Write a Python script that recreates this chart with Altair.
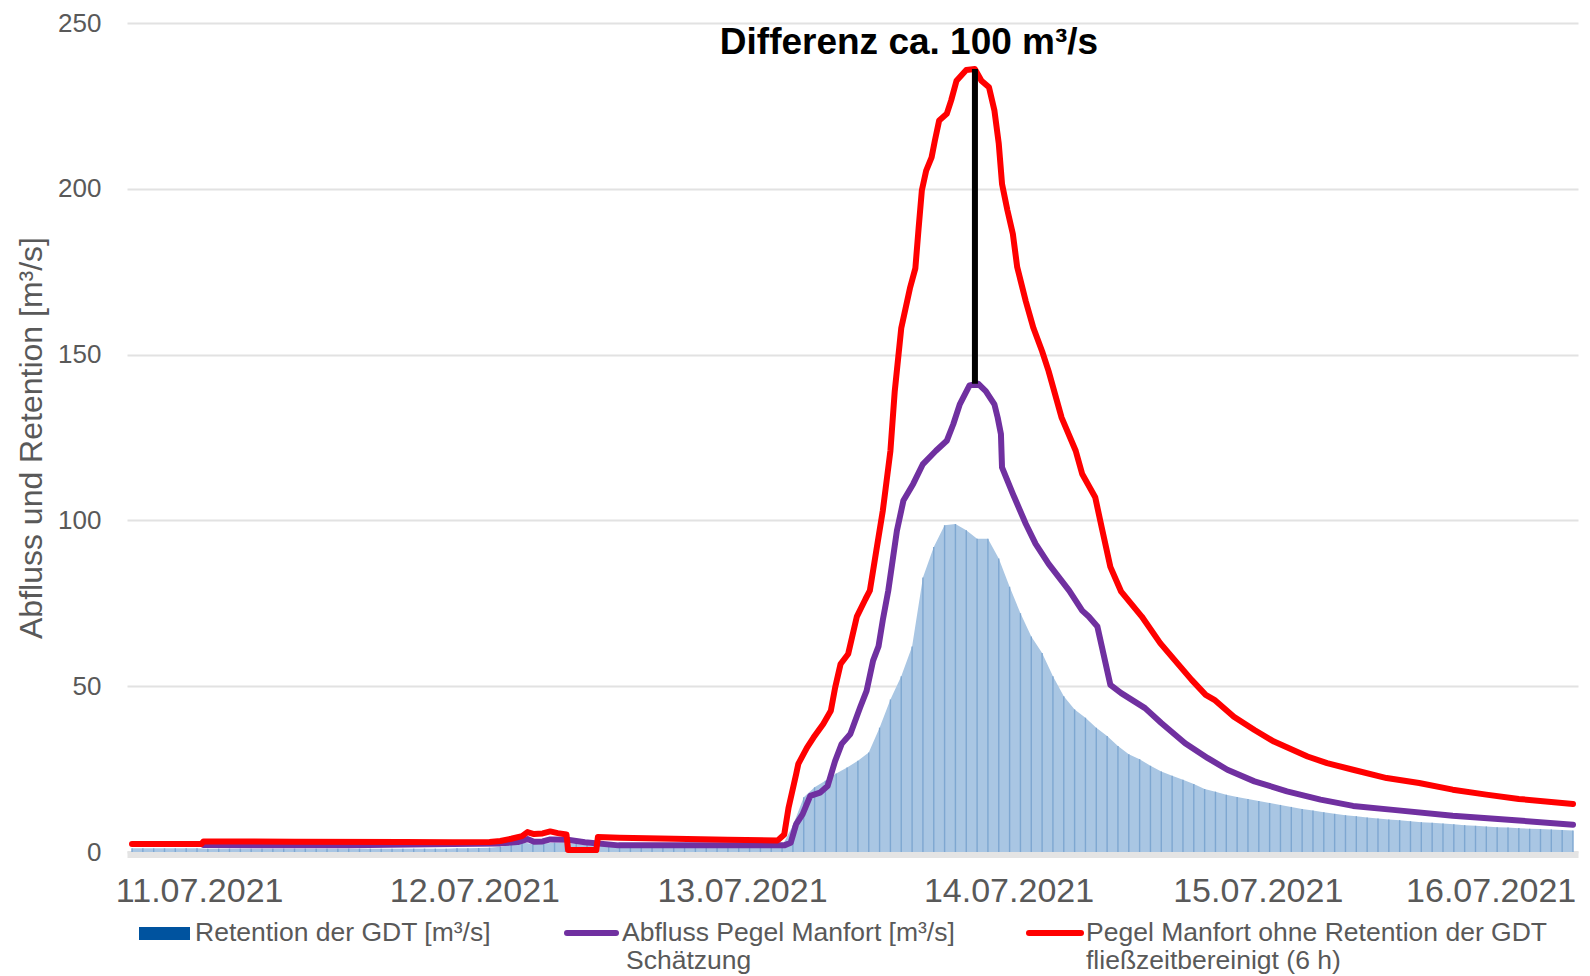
import altair as alt
import pandas as pd

# ---------------- data ----------------
x_ticks = [6.2, 31.6, 56.3, 80.9, 103.9, 125.4]
x_labels = ["11.07.2021", "12.07.2021", "13.07.2021", "14.07.2021", "15.07.2021", "16.07.2021"]
y_ticks = [0, 50, 100, 150, 200, 250]

# Retention der GDT [m³/s], hourly samples (hour index 0..133)
ret_hours = list(range(0, 134))
retention = [
    1.1, 1.1, 1.1, 1.1, 1.1, 1.1, 1.1, 1.0, 1.0, 1.0,
    1.0, 1.0, 1.0, 1.0, 1.0, 1.0, 1.0, 1.0, 1.0, 1.0,
    1.0, 1.0, 1.0, 1.0, 1.0, 1.0, 1.0, 1.0, 1.0, 1.0,
    1.1, 1.1, 1.2, 1.3, 1.6, 2.1, 3.0, 2.3, 2.6, 2.8,
    2.7, 2.4, 2.1, 1.9, 1.8, 1.8, 1.8, 1.7, 1.7, 1.7,
    1.7, 1.7, 1.6, 1.6, 1.6, 1.6, 1.6, 1.6, 1.5, 1.5,
    1.8, 8.0, 16.5, 19.5, 21.5, 23.7, 25.5, 27.5, 30.0, 37.5,
    46.0, 53.0, 62.0, 82.8, 92.0, 98.5, 98.9, 97.0, 94.5, 94.5,
    88.5, 80.0, 72.0, 65.0, 60.0, 53.0, 47.0, 43.0, 40.5, 37.5,
    35.0, 32.0, 29.5, 28.0, 26.0, 24.3, 23.0, 21.8, 20.5, 19.0,
    18.2, 17.3, 16.6, 16.0, 15.4, 14.8, 14.2, 13.6, 13.0, 12.5,
    12.0, 11.5, 11.1, 10.8, 10.4, 10.1, 9.8, 9.6, 9.3, 9.0,
    8.8, 8.6, 8.4, 8.1, 7.9, 7.7, 7.5, 7.4, 7.2, 7.0,
    6.9, 6.8, 6.6, 6.5,
]

# Abfluss Pegel Manfort [m³/s] (Schätzung)
purple_hours = [
    6.6, 20, 29.6, 34, 35.6, 36.5, 37.1, 37.9, 38.6, 40.2,
    41.8, 44.9, 52.5, 60.2, 60.8, 61.3, 61.9, 62.6, 63.5, 64.2,
    64.9, 65.5, 66.3, 67.2, 67.8, 68.4, 68.9, 69.3, 69.8, 70.6,
    71.2, 72.1, 73.0, 74.2, 75.2, 75.8, 76.4, 77.3, 78.1, 78.8,
    79.6, 79.9, 80.2, 80.3, 81.3, 82.5, 83.4, 84.6, 86.5, 87.7,
    88.3, 89.1, 90.3, 91.3, 93.5, 95.0, 97.2, 99.3, 101.1, 103.6,
    106.6, 109.7, 112.7, 116.4, 121.9, 128.0, 133.0,
]
purple_values = [
    2.1, 2.0, 2.4, 2.6, 3.0, 3.9, 3.1, 3.2, 3.8, 3.7,
    2.95, 2.0, 2.0, 2.0, 2.8, 8.4, 11.4, 16.9, 17.9, 19.9,
    27.5, 32.6, 35.6, 43.6, 48.6, 57.7, 62.0, 70.0, 78.8, 96.9,
    106.0, 111.0, 117.0, 121.0, 124.0, 129.0, 135.0, 140.7, 141.2, 139.0,
    135.0, 131.0, 126.0, 116.0, 108.0, 98.9, 92.9, 86.9, 78.8, 72.8,
    71.0, 68.0, 50.4, 47.9, 43.4, 38.9, 32.8, 28.3, 24.8, 21.3,
    18.3, 15.8, 13.9, 12.7, 10.9, 9.5, 8.2,
]

# Pegel Manfort ohne Retention der GDT, fließzeitbereinigt (6 h)
red_hours = [
    0, 6.4, 6.6, 15, 25, 29.6, 33, 34, 35, 36,
    36.5, 37.1, 37.9, 38.6, 39.3, 40.1, 40.25, 42.85, 43.0, 45,
    50, 55, 59.6, 60.2, 60.6, 61.3, 61.5, 62.3, 62.9, 63.8,
    64.5, 64.9, 65.4, 66.1, 66.9, 67.7, 68.1, 68.7, 69.3, 70.0,
    70.4, 71.0, 71.8, 72.3, 72.6, 72.9, 73.3, 73.8, 74.1, 74.5,
    75.2, 75.6, 76.1, 77.0, 77.8, 78.4, 79.1, 79.6, 80.0, 80.3,
    80.8, 81.3, 81.7, 82.5, 83.2, 84.0, 84.6, 85.8, 87.1, 87.7,
    88.9, 89.5, 90.3, 91.3, 93.2, 94.9, 96.2, 97.8, 99.1, 99.9,
    101.7, 103.6, 105.4, 108.5, 110.3, 112.7, 115.8, 118.8, 121.9, 125.0,
    128.0, 133.0,
]
red_values = [
    2.4, 2.4, 3.2, 3.1, 3.0, 2.95, 3.0, 3.3, 4.0, 4.8,
    6.0, 5.4, 5.6, 6.2, 5.7, 5.3, 0.6, 0.6, 4.5, 4.3,
    4.0, 3.7, 3.5, 5.3, 13.4, 23.5, 26.6, 31.5, 34.5, 38.6,
    42.6, 49.6, 56.7, 59.7, 71.0, 76.3, 78.8, 90.9, 103.0, 121.0,
    139.0, 158.0, 170.0, 176.0, 188.0, 199.5, 205.5, 209.5, 214.5, 220.6,
    222.6, 226.6, 232.6, 235.8, 236.1, 232.6, 230.6, 223.6, 213.6, 201.5,
    193.5, 186.4, 176.4, 166.0, 158.0, 151.0, 145.0, 131.0, 121.0, 114.0,
    107.0, 97.9, 86.0, 78.5, 71.0, 63.0, 58.0, 51.9, 47.4, 45.9,
    40.8, 36.8, 33.3, 28.8, 26.8, 24.8, 22.3, 20.8, 18.8, 17.3,
    16.0, 14.5,
]

annotation_text = "Differenz ca. 100 m³/s"
legend_names = [
    ["Retention der GDT [m³/s]"],
    ["Abfluss Pegel Manfort [m³/s]", "Schätzung"],
    ["Pegel Manfort ohne Retention der GDT", "fließzeitbereinigt (6 h)"],
]

# ---------------- chart ----------------
W, H = 1451, 829
GRAY = "#595959"
FONT = "Liberation Sans, Arial, sans-serif"
LW = 6

bars_df = pd.DataFrame({"h": ret_hours, "v": retention})
red_df = pd.DataFrame({"h": red_hours, "v": red_values})
pur_df = pd.DataFrame({"h": purple_hours, "v": purple_values})

label_expr = (
    "[" + ",".join("'" + s + "'" for s in x_labels) + "][indexof(["
    + ",".join(str(t) for t in x_ticks) + "], datum.value)]"
)

x_scale = alt.Scale(domain=[0, 133], nice=False, zero=False)
y_scale = alt.Scale(domain=[0, 250], nice=False)

x_axis = alt.Axis(
    values=x_ticks, labelExpr=label_expr, title=None, grid=False, ticks=False,
    domain=True, domainColor="#e4e4e4", domainWidth=7, offset=2,
    labelFontSize=34, labelColor=GRAY, labelFont=FONT, labelPadding=20,
    labelFlush=False, labelOverlap=False,
)
y_axis = alt.Axis(
    values=y_ticks, title="Abfluss und Retention [m³/s]", grid=True,
    gridColor="#e2e2e2", gridWidth=2, ticks=False, domain=False,
    labelFontSize=26, labelColor=GRAY, labelFont=FONT, labelPadding=26,
    titleFontSize=32, titleFont=FONT, titleColor=GRAY, titleFontWeight="normal",
    titleX=-96, titleY=H / 2, titleAngle=270, titleAlign="center",
    titleBaseline="middle",
)


def X():
    return alt.X("h:Q", scale=x_scale, axis=x_axis)


def Y():
    return alt.Y("v:Q", scale=y_scale, axis=y_axis)


area = alt.Chart(bars_df).mark_area(interpolate="linear", color="#a9c6e3").encode(x=X(), y=Y())
barlines = alt.Chart(bars_df).mark_bar(width=1.4, color="#7ea7d1", orient="vertical").encode(x=X(), y=Y())
purple = alt.Chart(pur_df).mark_line(
    color="#7030a0", strokeWidth=LW, strokeJoin="round", strokeCap="round"
).encode(x=X(), y=Y())
red = alt.Chart(red_df).mark_line(
    color="#ff0000", strokeWidth=LW, strokeJoin="round", strokeCap="round"
).encode(x=X(), y=Y())

i_peak = red_values.index(max(red_values))
peak_df = pd.DataFrame({
    "h": [red_hours[i_peak]],
    "lo": [max(purple_values)],
    "hi": [max(red_values)],
})
diff_rule = alt.Chart(peak_df).mark_rule(color="black", strokeWidth=6).encode(
    x=alt.X("h:Q", scale=x_scale, axis=x_axis),
    y=alt.Y("lo:Q", scale=y_scale, axis=y_axis),
    y2="hi:Q",
)

anno = alt.Chart(pd.DataFrame({"t": [annotation_text]})).mark_text(
    font=FONT, fontSize=37, fontWeight="bold", color="black",
    align="center", baseline="alphabetic",
).encode(text="t:N", x=alt.value(782), y=alt.value(31))


def legend_text(s, x, y):
    return alt.Chart(pd.DataFrame({"t": [s]})).mark_text(
        font=FONT, fontSize=26.5, color=GRAY, align="left", baseline="middle"
    ).encode(text="t:N", x=alt.value(x), y=alt.value(y))


one = pd.DataFrame({"k": [0]})
leg_rect = alt.Chart(one).mark_rect(color="#00539f").encode(
    x=alt.value(12), x2=alt.value(63), y=alt.value(904), y2=alt.value(917)
)
leg_purple = alt.Chart(one).mark_rule(color="#7030a0", strokeWidth=LW, strokeCap="round").encode(
    x=alt.value(440), x2=alt.value(489), y=alt.value(910)
)
leg_red = alt.Chart(one).mark_rule(color="#ff0000", strokeWidth=LW, strokeCap="round").encode(
    x=alt.value(902), x2=alt.value(954), y=alt.value(910)
)

legend_layers = [
    leg_rect, leg_purple, leg_red,
    legend_text(legend_names[0][0], 68, 910),
    legend_text(legend_names[1][0], 495, 910),
    legend_text(legend_names[1][1], 499, 938),
    legend_text(legend_names[2][0], 959, 910),
    legend_text(legend_names[2][1], 959, 938),
]

chart = alt.layer(
    area, barlines, purple, red, diff_rule, anno, *legend_layers
).properties(
    width=W, height=H,
    autosize=alt.AutoSizeParams(type="none"),
    padding={"left": 119, "top": 15, "right": 4, "bottom": 124},
).configure_view(stroke=None)

chart.save("out.html", embed_options={"renderer": "svg", "actions": False})
